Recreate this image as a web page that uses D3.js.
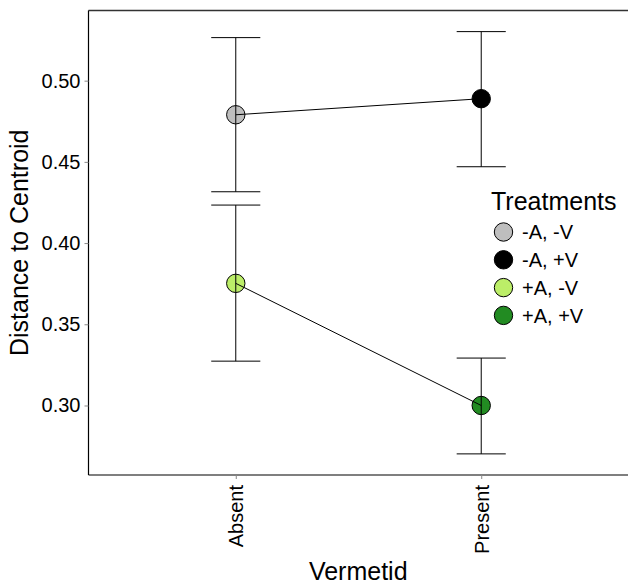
<!DOCTYPE html>
<html>
<head>
<meta charset="utf-8">
<script src="https://cdn.jsdelivr.net/npm/d3@7"></script>
<style>
  body { margin: 0; background: #fff; }
  text { font-family: "Liberation Sans", Arial, Helvetica, sans-serif; }
</style>
</head>
<body>
<div id="chart"></div>
<script>
// values
const vermetid = ['Absent', 'Present'];
const treatments = ['-A, -V', '-A, +V', '+A, -V', '+A, +V'];
const treatVermetid = ['Absent', 'Present', 'Absent', 'Present'];
const means = [0.479, 0.4889, 0.3752, 0.300];
const lower = [0.4316, 0.447, 0.3273, 0.2702];
const upper = [0.5265, 0.5302, 0.4234, 0.3292];
const fills = ['#bebebe', '#000000', '#bcee68', '#228b22'];
const yTicks = [0.30, 0.35, 0.40, 0.45, 0.50];

const width = 628, height = 585;
const margin = { top: 10.5, right: 0, bottom: 110, left: 88.5 };

const svg = d3.select('#chart').append('svg')
  .attr('width', width)
  .attr('height', height);

const x = d3.scalePoint()
  .domain(vermetid)
  .range([margin.left, width - margin.right + 0.5])
  .padding(0.6);

// ggplot style 5% expansion around the data range
const lo = d3.min(lower), hi = d3.max(upper);
const pad = (hi - lo) * 0.05;
const y = d3.scaleLinear()
  .domain([lo - pad, hi + pad])
  .range([height - margin.bottom, margin.top]);

const colour = d3.scaleOrdinal().domain(treatments).range(fills);

const data = treatments.map((t, i) => ({
  treat: t, v: treatVermetid[i], mean: means[i], lo: lower[i], hi: upper[i]
}));

// top border
svg.append('line')
  .attr('x1', margin.left).attr('x2', width)
  .attr('y1', margin.top).attr('y2', margin.top)
  .attr('stroke', '#333').attr('stroke-width', 1.6);

// points
svg.append('g')
  .selectAll('circle')
  .data(data)
  .join('circle')
    .attr('cx', d => x(d.v))
    .attr('cy', d => y(d.mean))
    .attr('r', 9.2)
    .attr('fill', d => colour(d.treat))
    .attr('stroke', '#000')
    .attr('stroke-width', 1);

// lines joining Absent -> Present
const pairs = [[data[0], data[1]], [data[2], data[3]]];
svg.append('g')
  .selectAll('path')
  .data(pairs)
  .join('path')
    .attr('d', d3.line().x(d => x(d.v)).y(d => y(d.mean)))
    .attr('fill', 'none')
    .attr('stroke', '#000')
    .attr('stroke-width', 1);

// error bars
const capHalf = x.step() * 0.1;
const eb = svg.append('g').attr('stroke', '#000').attr('stroke-width', 1);
data.forEach(d => {
  eb.append('line')
    .attr('x1', x(d.v)).attr('x2', x(d.v))
    .attr('y1', y(d.lo)).attr('y2', y(d.hi));
  [d.lo, d.hi].forEach(val => {
    eb.append('line')
      .attr('x1', x(d.v) - capHalf).attr('x2', x(d.v) + capHalf)
      .attr('y1', y(val)).attr('y2', y(val));
  });
});

// y axis
const yAxis = svg.append('g')
  .attr('transform', `translate(${margin.left},0)`)
  .call(d3.axisLeft(y).tickValues(yTicks).tickFormat(d3.format('.2f')).tickSize(4).tickPadding(4));
yAxis.select('.domain').attr('stroke', '#000').attr('stroke-width', 1.2)
  .attr('d', `M0,${margin.top}V${height - margin.bottom}`);
yAxis.selectAll('.tick line').attr('stroke', '#888');
yAxis.selectAll('.tick text').attr('font-size', 20).attr('fill', '#000')
  .attr('font-family', '"Liberation Sans", Arial, sans-serif');

// x axis
const xAxis = svg.append('g')
  .attr('transform', `translate(0,${height - margin.bottom})`)
  .call(d3.axisBottom(x).tickSize(4).tickPadding(4));
xAxis.select('.domain').attr('stroke', '#000').attr('stroke-width', 1.2)
  .attr('d', `M${margin.left},0H${width}`);
xAxis.selectAll('.tick line').attr('stroke', '#888');
xAxis.selectAll('.tick text')
  .attr('font-size', 20).attr('fill', '#000')
  .attr('font-family', '"Liberation Sans", Arial, sans-serif')
  .attr('text-anchor', 'end')
  .attr('dy', '0.35em')
  .attr('transform', 'translate(0,10) rotate(-90)')
  .attr('x', 0).attr('y', 0);

// axis titles
svg.append('text')
  .attr('x', (margin.left + width) / 2)
  .attr('y', 580)
  .attr('text-anchor', 'middle')
  .attr('font-size', 25)
  .text('Vermetid');

svg.append('text')
  .attr('transform', `translate(28,${(margin.top + height - margin.bottom) / 2}) rotate(-90)`)
  .attr('text-anchor', 'middle')
  .attr('font-size', 25)
  .text('Distance to Centroid');

// legend
const legend = svg.append('g').attr('transform', 'translate(491,0)');
legend.append('text')
  .attr('x', 0).attr('y', 210)
  .attr('font-size', 25)
  .text('Treatments');
const items = legend.selectAll('g.item')
  .data(treatments)
  .join('g')
    .attr('class', 'item')
    .attr('transform', (d, i) => `translate(0,${232 + i * 27.8})`);
items.append('circle')
  .attr('cx', 12.5).attr('cy', 0).attr('r', 9.2)
  .attr('fill', d => colour(d))
  .attr('stroke', '#000').attr('stroke-width', 1);
items.append('text')
  .attr('x', 31).attr('y', 0).attr('dy', '0.36em')
  .attr('font-size', 20)
  .text(d => d);
</script>
</body>
</html>
